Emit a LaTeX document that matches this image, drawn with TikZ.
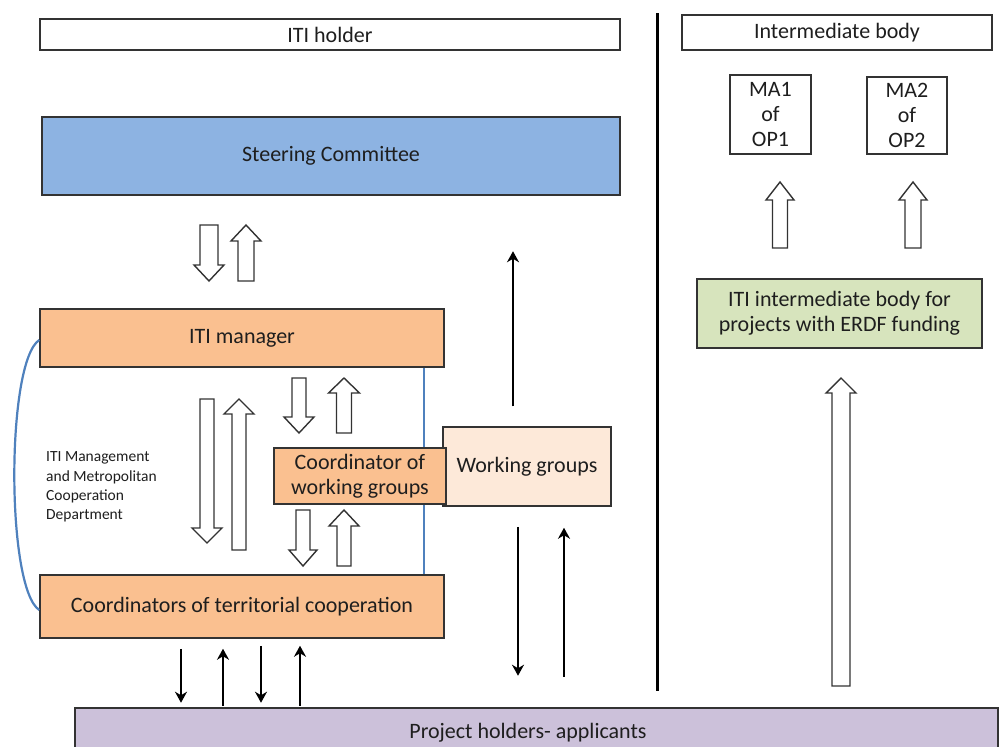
\documentclass[tikz,border=0pt]{standalone}
\usepackage{fontspec}
\setmainfont{Carlito}
\usetikzlibrary{arrows.meta}

\definecolor{boxline}{HTML}{333333}
\definecolor{txt}{HTML}{1E1E1E}
\definecolor{steerfill}{HTML}{8DB3E2}
\definecolor{orangefill}{HTML}{FAC090}
\definecolor{peachfill}{HTML}{FDE9D9}
\definecolor{greenfill}{HTML}{D7E4BD}
\definecolor{purplefill}{HTML}{CCC1DA}
\definecolor{linkblue}{HTML}{4F81BD}

% hollow block arrows: centre x, tip/top y, base/tip y, shaft half width, head half width, head length
\newcommand{\fatup}[6]{%
  \draw[fatarrow] (#1-#4,#3) -- (#1-#4,#2+#6) -- (#1-#5,#2+#6) -- (#1,#2)
    -- (#1+#5,#2+#6) -- (#1+#4,#2+#6) -- (#1+#4,#3) -- cycle;}
\newcommand{\fatdown}[6]{%
  \draw[fatarrow] (#1-#4,#2) -- (#1-#4,#3-#6) -- (#1-#5,#3-#6) -- (#1,#3)
    -- (#1+#5,#3-#6) -- (#1+#4,#3-#6) -- (#1+#4,#2) -- cycle;}

\begin{document}
\begin{tikzpicture}[x=1pt,y=-1pt,
  box/.style={draw=boxline, line width=1.5pt, inner sep=0pt, align=center,
    text=txt, font=\fontsize{22}{25}\selectfont},
  fatarrow/.style={draw=boxline, fill=white, line width=1.4pt, line join=miter},
  thinarrow/.style={draw=black, line width=2.6pt,
    -{Stealth[length=11pt,width=12pt,inset=3.5pt]}},
  blueline/.style={draw=linkblue, line width=2.2pt}]

\useasboundingbox (0,0) rectangle (1002,747);
\fill[white] (0,0) rectangle (1002,747);

% column headings
\node[box, minimum width=580pt, minimum height=31pt] (holder) at (330,34.5) {ITI holder};
\node[box, minimum width=310pt, minimum height=35pt] (inter) at (837,32.5) {Intermediate body};

% divider between the two columns
\draw[black, line width=3pt] (657,13) -- (657,691);

% left column
\node[box, fill=steerfill, minimum width=578pt, minimum height=78pt] (steer) at (331,156) {Steering Committee};
\node[box, fill=orangefill, minimum width=404pt, minimum height=58pt] (mgr) at (242,338) {ITI manager};
\node[box, fill=orangefill, minimum width=404pt, minimum height=63pt] (coord) at (242,606.5) {Coordinators of territorial cooperation};

% department link
\draw[blueline] ([yshift=-2pt]mgr.west) .. controls (6,362) and (6,588) .. ([yshift=-3.5pt]coord.west);
\draw[blueline] ([xshift=182pt]mgr.south) -- ([xshift=182pt]coord.north);

\node[box, fill=peachfill, minimum width=168pt, minimum height=79pt] (wg) at (527,466.5) {Working groups};
\node[box, fill=orangefill, minimum width=172pt, minimum height=56pt] (cowg) at (360,476) {Coordinator of\\working groups};

\node[anchor=west, align=left, inner sep=0pt, text=txt,
  font=\fontsize{15.5}{19.3}\selectfont] (dept) at (46,487)
  {ITI Management\\and Metropolitan\\Cooperation\\Department};

% hollow arrows in the left column
\fatdown{209}{225}{281}{9}{15}{16}
\fatup{246}{225}{281}{8}{15}{16}
\fatdown{207}{399}{543}{7}{15}{15}
\fatup{239}{399}{550}{7}{15}{15}
\fatdown{299}{378}{433}{7}{15}{16}
\fatup{344}{378}{433}{7.5}{15.5}{15}
\fatdown{303}{510}{566}{7}{14}{16}
\fatup{344}{510}{566}{7}{15}{16}

% right column
\node[box, minimum width=81pt, minimum height=79pt] (ma1) at (770.5,114.5) {MA1\\of\\OP1};
\node[box, minimum width=80pt, minimum height=77pt] (ma2) at (907,115.5) {MA2\\of\\OP2};
\node[box, fill=greenfill, minimum width=285pt, minimum height=69pt] (ib) at (839.5,313.5)
  {ITI intermediate body for\\projects with ERDF funding};
\fatup{780}{182}{248}{7.5}{14}{18}
\fatup{913}{182}{248}{8}{14}{18}
\fatup{841}{378}{686}{9}{15}{15}

% applicants
\node[box, fill=purplefill, minimum width=923pt, minimum height=56pt] (proj) at (536.5,736) {};
\node[text=txt, font=\fontsize{22}{25}\selectfont, inner sep=0pt] (projlabel) at (528,733) {Project holders- applicants};

% information flows
\draw[thinarrow] ([xshift=-14pt,yshift=20pt]wg.north) -- ++(0,-155);
\draw[thinarrow] ([xshift=-9pt,yshift=-20pt]wg.south) -- ++(0,149);
\draw[thinarrow, -, {Stealth[length=11pt,width=12pt,inset=3.5pt]}-] ([xshift=37pt,yshift=-21pt]wg.south) -- ++(0,149);

\draw[thinarrow] ([xshift=-61pt,yshift=-10pt]coord.south) -- ++(0,54);
\draw[thinarrow, -, {Stealth[length=11pt,width=12pt,inset=3.5pt]}-] ([xshift=-19pt,yshift=-10pt]coord.south) -- ++(0,57);
\draw[thinarrow] ([xshift=19pt,yshift=-7pt]coord.south) -- ++(0,57);
\draw[thinarrow, -, {Stealth[length=11pt,width=12pt,inset=3.5pt]}-] ([xshift=58pt,yshift=-7pt]coord.south) -- ++(0,60);
\end{tikzpicture}
\end{document}
